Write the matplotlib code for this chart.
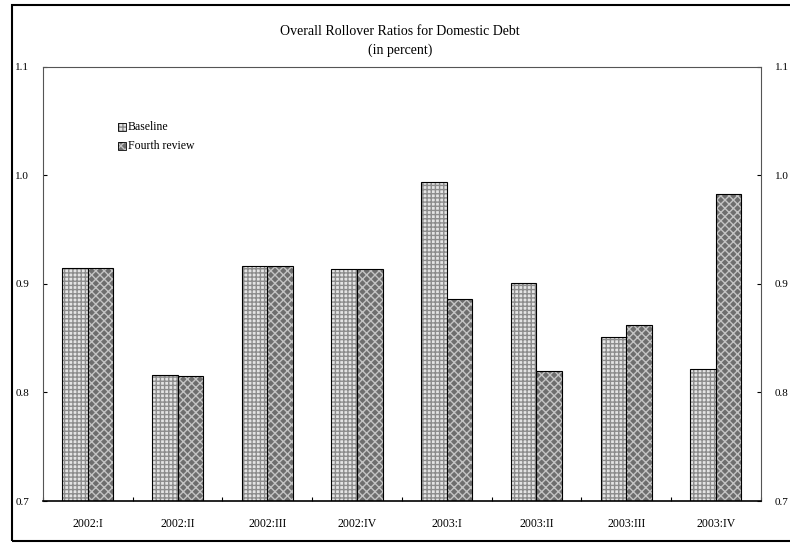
import numpy as np
import matplotlib
matplotlib.use('Agg')
import matplotlib.pyplot as plt
from matplotlib.patches import Rectangle

plt.rcParams['font.family'] = ['Liberation Serif', 'DejaVu Serif']
plt.rcParams['hatch.linewidth'] = 1.0

quarters = ['2002:I', '2002:II', '2002:III', '2002:IV',
            '2003:I', '2003:II', '2003:III', '2003:IV']
baseline = [0.915, 0.816, 0.917, 0.914, 0.994, 0.901, 0.851, 0.822]
fourth_review = [0.915, 0.815, 0.917, 0.914, 0.886, 0.820, 0.862, 0.983]
y_ticks = [0.7, 0.8, 0.9, 1.0, 1.1]

fig = plt.figure(figsize=(7.9, 5.44), dpi=100)
ax = fig.add_axes([0.0544, 0.079, 0.9086, 0.798])

x = np.arange(len(quarters))
w = 0.285

# hatched fill first, then black outline on top
ax.bar(x - w / 2, np.array(baseline) - 0.7, w, bottom=0.7, color='#e4e4e4',
       hatch='++++', edgecolor='#8c8c8c', linewidth=0)
ax.bar(x - w / 2, np.array(baseline) - 0.7, w, bottom=0.7, fill=False,
       edgecolor='black', linewidth=0.8)
ax.bar(x + w / 2, np.array(fourth_review) - 0.7, w, bottom=0.7, color='#6e6e6e',
       hatch='xxxx', edgecolor='#c4c4c4', linewidth=0)
ax.bar(x + w / 2, np.array(fourth_review) - 0.7, w, bottom=0.7, fill=False,
       edgecolor='black', linewidth=0.8)

ax.set_xlim(-0.5, len(quarters) - 0.5)
ax.set_ylim(0.7, 1.1)
ax.set_yticks(y_ticks)
ax.set_yticklabels(['%.1f' % v for v in y_ticks], fontsize=8)
ax.tick_params(axis='y', direction='in', length=3, pad=10, labelright=True, right=True)

ax.set_xticks(np.arange(len(quarters) + 1) - 0.5)
ax.set_xticklabels([])
ax.set_xticks(x, minor=True)
ax.set_xticklabels(quarters, minor=True, fontsize=8.5)
ax.tick_params(axis='x', which='major', direction='in', length=3)
ax.tick_params(axis='x', which='minor', length=0, pad=12)

for s in ax.spines.values():
    s.set_color('#555555')
    s.set_linewidth(0.8)
ax.spines['bottom'].set_color('black')
ax.spines['bottom'].set_linewidth(1.2)

# legend
lx, ly = 0.105, 0.862
for i, (lab, fc, hc, hp) in enumerate([('Baseline', '#e4e4e4', '#8c8c8c', '++++'),
                                      ('Fourth review', '#6e6e6e', '#c4c4c4', 'xxxx')]):
    yy = ly - i * 0.045
    ax.add_patch(Rectangle((lx, yy - 0.009), 0.010, 0.018, transform=ax.transAxes,
                           facecolor=fc, hatch=hp, edgecolor=hc, linewidth=0))
    ax.add_patch(Rectangle((lx, yy - 0.009), 0.010, 0.018, transform=ax.transAxes,
                           fill=False, edgecolor='black', linewidth=0.6))
    ax.text(lx + 0.013, yy, lab, transform=ax.transAxes, fontsize=8.5, va='center')

fig.text(0.506, 0.943, 'Overall Rollover Ratios for Domestic Debt', ha='center',
         va='center', fontsize=10)
fig.text(0.506, 0.908, '(in percent)', ha='center', va='center', fontsize=10)

fig.patches.append(Rectangle((12 / 790, 3 / 544), 1.2, 536 / 544,
                             transform=fig.transFigure, fill=False,
                             edgecolor='black', linewidth=1.5))

fig.savefig('out.png', dpi=100)
